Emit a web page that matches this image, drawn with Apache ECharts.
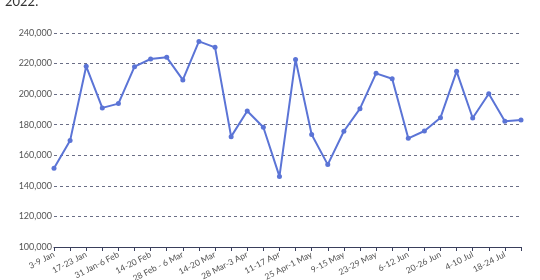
<!DOCTYPE html>
<html><head><meta charset="utf-8">
<script src="https://cdn.jsdelivr.net/npm/echarts@6/dist/echarts.min.js"></script>
<style>html,body{margin:0;padding:0;background:#fff}#c{width:540px;height:280px}</style>
</head><body><div id="c"></div>
<script>
const titleText = "2022.";
const weeks = ["3-9 Jan","10-16 Jan","17-23 Jan","24-30 Jan","31 Jan-6 Feb","7-13 Feb","14-20 Feb","21-27 Feb","28 Feb - 6 Mar","7-13 Mar","14-20 Mar","21-27 Mar","28 Mar-3 Apr","4-10 Apr","11-17 Apr","18-24 Apr","25 Apr-1 May","2-8 May","9-15 May","16-22 May","23-29 May","30 May-5 Jun","6-12 Jun","13-19 Jun","20-26 Jun","27 Jun-3 Jul","4-10 Jul","11-17 Jul","18-24 Jul","25-31 Jul"];
const values = [151500,169600,218200,191000,193800,218000,223000,224100,209300,234500,230600,172200,189000,178300,146200,222600,173600,153900,175700,190500,213600,210100,171100,175900,184600,214900,184400,200300,182200,183100];
const yMin = 100000, yMax = 240000, yStep = 20000;

const chart = echarts.init(document.getElementById('c'), null, {renderer:'canvas'});
chart.setOption({
  animation:false,
  title:{text:titleText,left:0,top:-10,textStyle:{fontFamily:'Lato',fontSize:13,fontWeight:'normal',color:'#333'}},
  grid:{left:54,right:19,top:33,bottom:33,containLabel:false,outerBoundsMode:'none'},
  xAxis:{type:'category',data:weeks,boundaryGap:false,
    axisLine:{lineStyle:{color:'#3a3f5c',width:1}},
    axisTick:{show:true,alignWithLabel:true,interval:0,length:4,lineStyle:{color:'#3a3f5c'}},
    axisLabel:{interval:1,rotate:27,fontFamily:'Lato',fontSize:8.5,color:'#555',margin:7,hideOverlap:false}},
  yAxis:{type:'value',min:yMin,max:yMax,interval:yStep,
    axisLine:{show:false},axisTick:{show:false},
    axisLabel:{fontFamily:'Lato',fontSize:9,color:'#555',margin:2,
      formatter:v=>v.toLocaleString('en-US')},
    splitLine:{lineStyle:{color:'#6a6e86',type:[3,3],width:1}}},
  series:[{type:'line',data:values,symbol:'circle',symbolSize:5,
    lineStyle:{color:'#5b74d6',width:2},itemStyle:{color:'#5b74d6'}}]
});
</script></body></html>
